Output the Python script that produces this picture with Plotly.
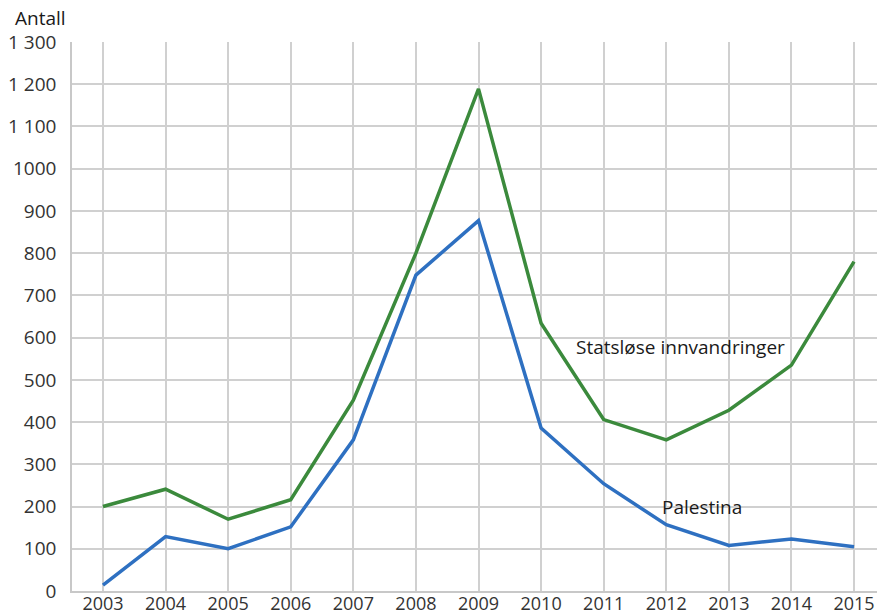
import plotly.graph_objects as go

years = list(range(2003, 2016))
statslose = [200, 241, 170, 216, 452, 800, 1189, 634, 406, 358, 428, 535, 780]
palestina = [14, 129, 100, 152, 358, 748, 877, 386, 254, 157, 108, 123, 105]
y_ticks = [0, 100, 200, 300, 400, 500, 600, 700, 800, 900, 1000, 1100, 1200, 1300]
y_labels = ["0", "100", "200", "300", "400", "500", "600", "700", "800", "900", "1000", "1 100", "1 200", "1 300"]

FONT = "Open Sans"
fig = go.Figure()
fig.add_trace(go.Scatter(x=years, y=statslose, mode="lines", line=dict(color="#3b8a3c", width=3.5), name="Statsløse innvandringer"))
fig.add_trace(go.Scatter(x=years, y=palestina, mode="lines", line=dict(color="#2e70c1", width=3.5), name="Palestina"))

fig.add_annotation(x=2012.23, y=577, text="Statsløse innvandringer", showarrow=False, xanchor="center", yanchor="middle",
                   font=dict(family=FONT, size=19, color="#1a1a1a"))
fig.add_annotation(x=2012.57, y=199, text="Palestina", showarrow=False, xanchor="center", yanchor="middle",
                   font=dict(family=FONT, size=19, color="#1a1a1a"))
fig.add_annotation(x=0, y=1, xref="paper", yref="paper", text="Antall", showarrow=False, xanchor="left", yanchor="bottom",
                   xshift=-59, yshift=9, font=dict(family=FONT, size=19, color="#1a1a1a"))

fig.update_layout(
    width=877, height=616,
    margin=dict(l=72, r=0, t=42, b=25, autoexpand=False),
    paper_bgcolor="white", plot_bgcolor="white",
    showlegend=False,
    font=dict(family=FONT, size=19, color="#333333"),
    xaxis=dict(range=[2002.505, 2015.367], tickvals=years, ticktext=[str(y) for y in years],
               showgrid=True, gridcolor="#d0d0d0", gridwidth=1.5, zeroline=False, automargin=False,
               showline=True, linecolor="#c8c8c8", linewidth=1.5, ticks="", ticklabelstandoff=-4,
               tickfont=dict(size=18, color="#333333")),
    yaxis=dict(range=[0, 1300], tickvals=y_ticks, ticktext=y_labels,
               showgrid=True, gridcolor="#d0d0d0", gridwidth=1.5, zeroline=False, automargin=False,
               showline=True, linecolor="#c8c8c8", linewidth=1.5, ticks="", ticklabelstandoff=10,
               tickfont=dict(size=19, color="#333333")),
)
fig.write_html("out.html", config={"displayModeBar": False},
               post_script="document.body.style.margin='0';document.body.style.overflow='hidden';")
